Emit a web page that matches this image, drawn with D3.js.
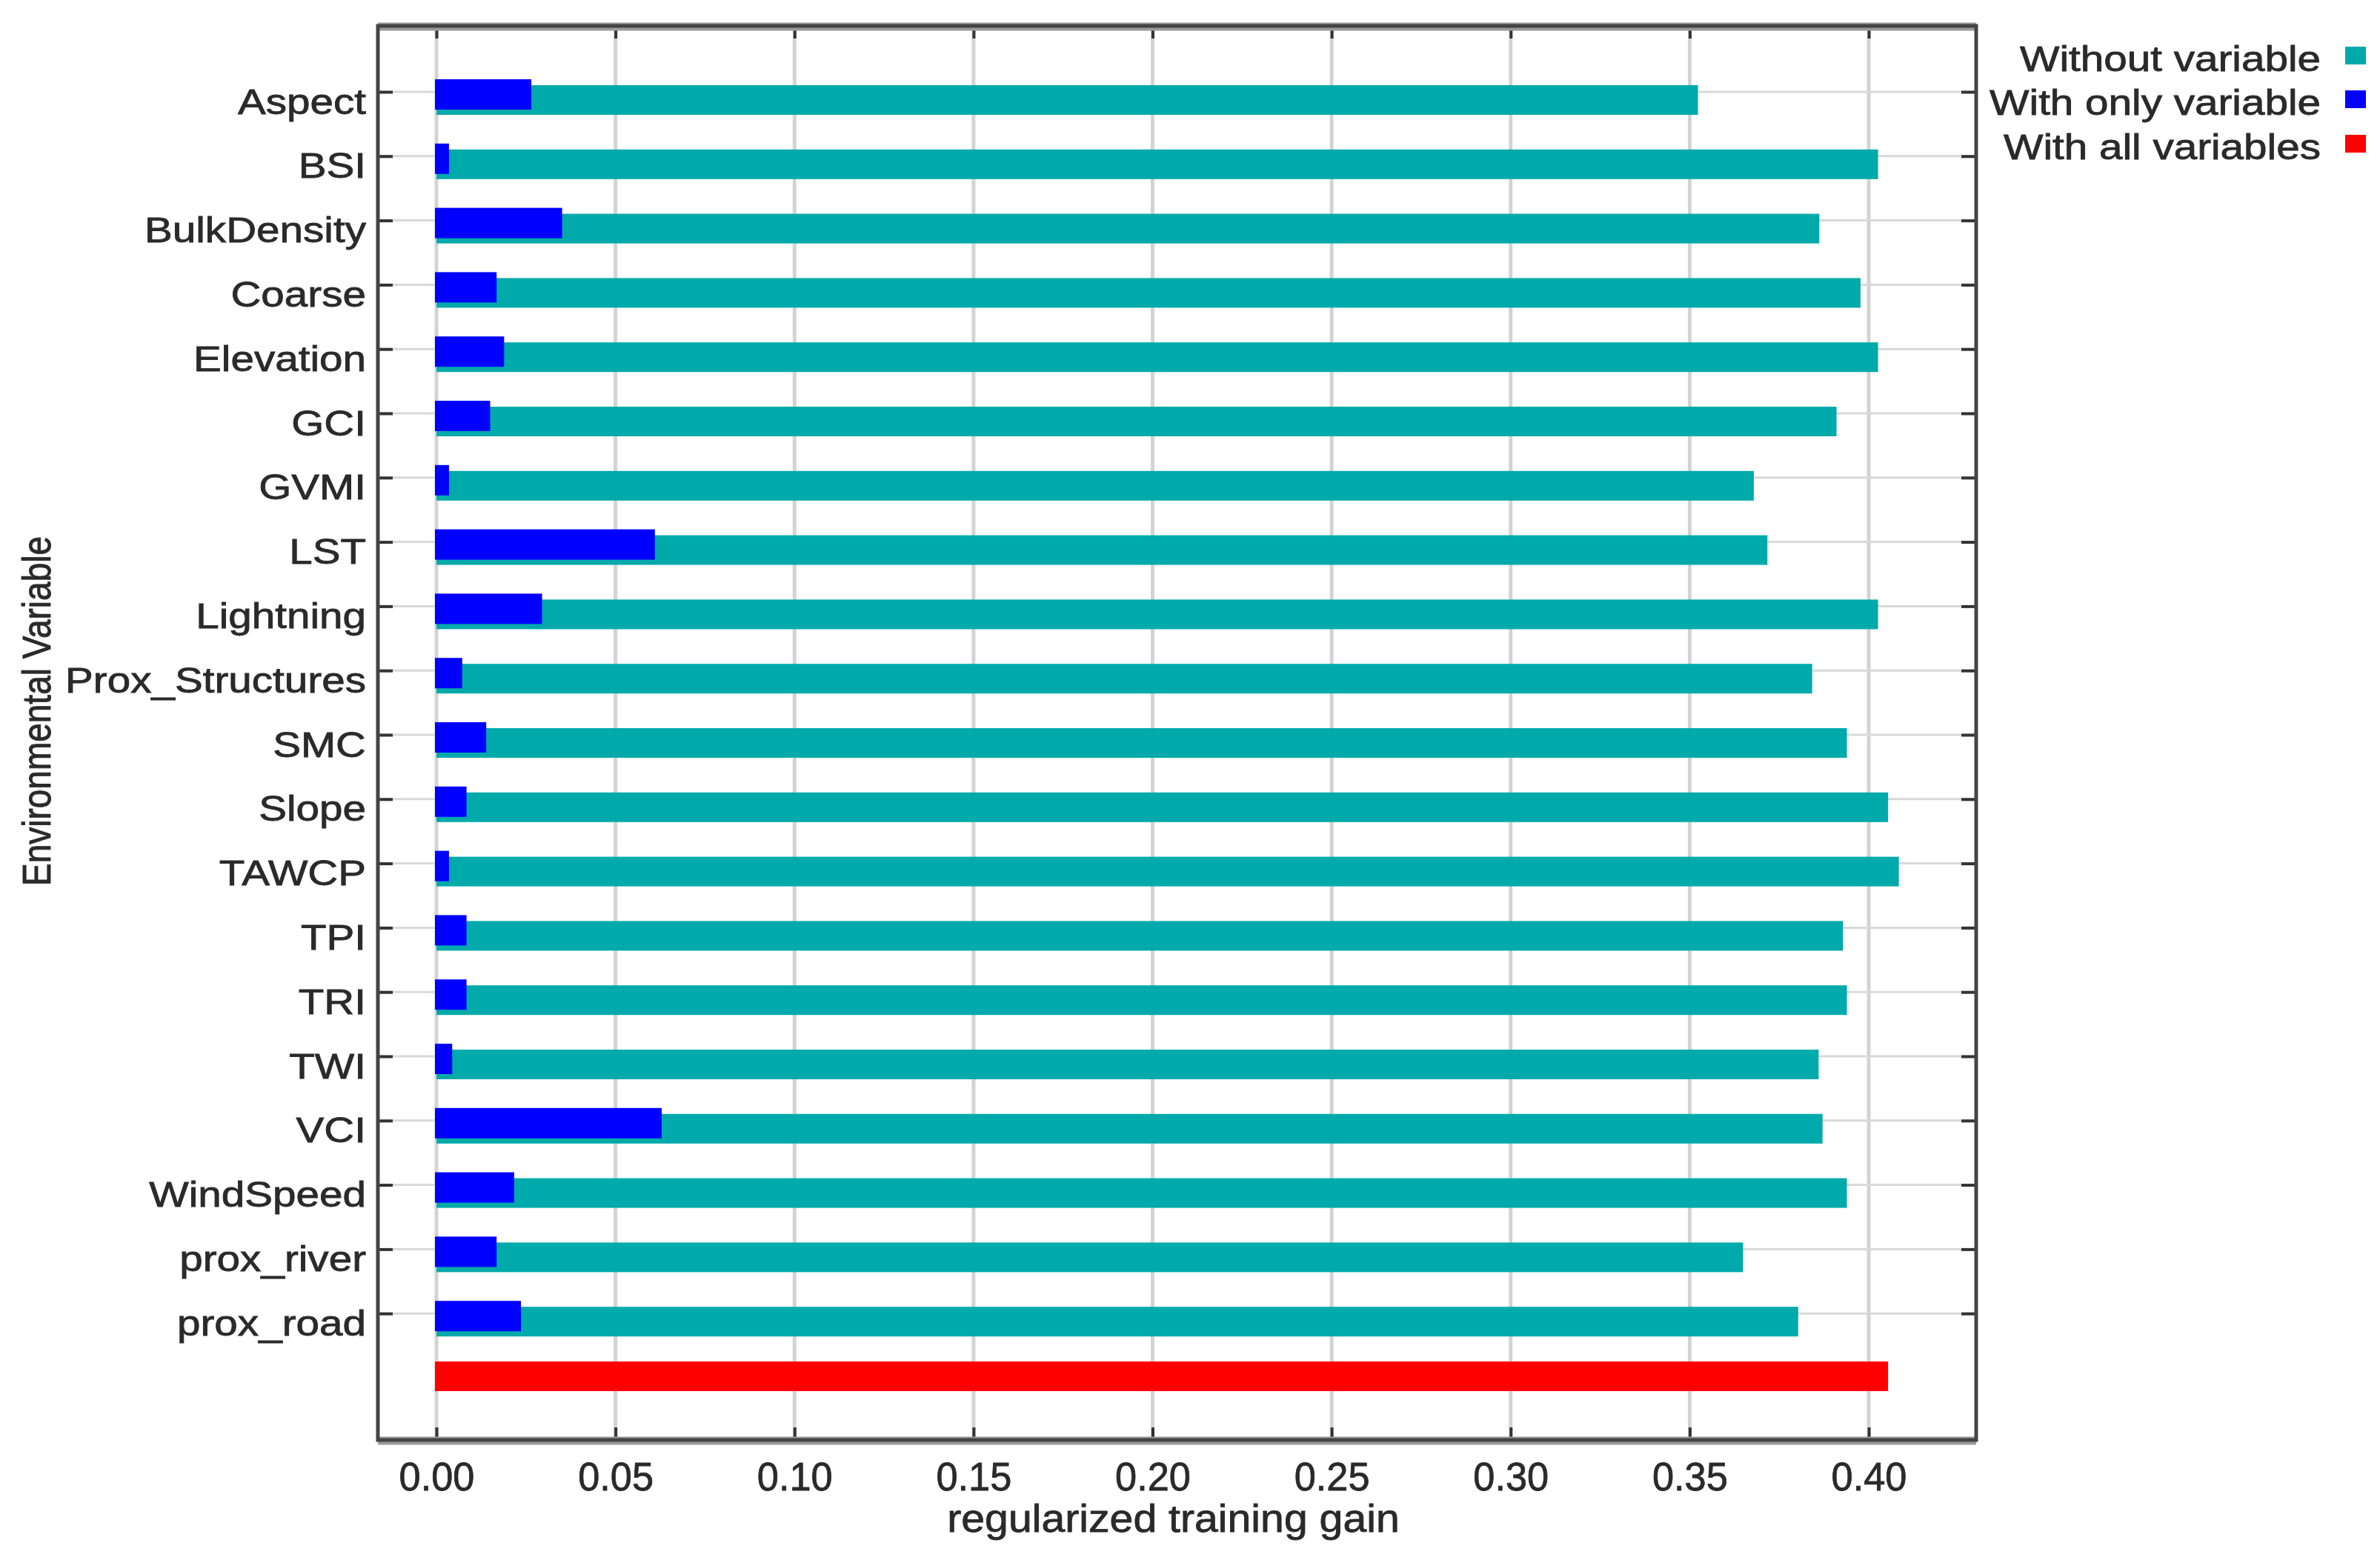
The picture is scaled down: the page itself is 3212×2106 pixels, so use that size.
<!DOCTYPE html>
<html>
<head>
<meta charset="utf-8">
<script src="https://cdn.jsdelivr.net/npm/d3@7"></script>
<style>
  html, body { margin: 0; padding: 0; background: #fff; }
  svg { display: block; font-family: "Liberation Sans", Arial, sans-serif; }
  svg text { stroke: #2a2a2a; stroke-width: 0.8px; }
</style>
</head>
<body>
<script>
// jackknife of regularized training gain
const variables = ["Aspect", "BSI", "BulkDensity", "Coarse", "Elevation", "GCI", "GVMI", "LST",
  "Lightning", "Prox_Structures", "SMC", "Slope", "TAWCP", "TPI", "TRI", "TWI", "VCI",
  "WindSpeed", "prox_river", "prox_road"];
const withoutVariable = [0.3523, 0.4026, 0.3862, 0.3977, 0.4026, 0.3910, 0.3679, 0.3717,
  0.4026, 0.3842, 0.3939, 0.4054, 0.4084, 0.3928, 0.3939, 0.3860, 0.3871,
  0.3939, 0.3649, 0.3803];
const withOnlyVariable = [0.0265, 0.0035, 0.0351, 0.0168, 0.0189, 0.0150, 0.0035, 0.0610,
  0.0295, 0.0072, 0.0139, 0.0084, 0.0035, 0.0084, 0.0084, 0.0044, 0.0629,
  0.0217, 0.0168, 0.0236];
const withAllVariables = 0.4054;
const xTicks = [0, 0.05, 0.10, 0.15, 0.20, 0.25, 0.30, 0.35, 0.40];
const legendLabels = ["Without variable", "With only variable", "With all variables"];
const legendColors = ["#00aaaa", "#0000ff", "#ff0000"];

const W = 3212, H = 2106;
const pLeft = 510, pRight = 2667, pTop = 35, pBottom = 1944;
const sx = 1.18; // the picture is stretched sideways, text too

const svg = d3.select("body").append("svg")
  .attr("width", W).attr("height", H)
  .attr("viewBox", [0, 0, W, H]);

const x = d3.scaleLinear().domain([-0.01635, 0.430]).range([pLeft, pRight]);
const rows = variables.concat(["all"]);
const y = d3.scalePoint().domain(rows).range([124, 1860]);

// grid
const grid = svg.append("g");
grid.selectAll("line.v")
  .data(xTicks)
  .join("line")
  .attr("class", "v")
  .attr("x1", d => x(d)).attr("x2", d => x(d))
  .attr("y1", pTop).attr("y2", pBottom)
  .attr("stroke", "#d3d3d3")
  .attr("stroke-width", 5);
grid.selectAll("line.h")
  .data(variables)
  .join("line")
  .attr("class", "h")
  .attr("x1", pLeft).attr("x2", pRight)
  .attr("y1", d => y(d)).attr("y2", d => y(d))
  .attr("stroke", "#d9d9d9")
  .attr("stroke-width", 3);

// bars
const bars = svg.append("g");
bars.selectAll("rect.without")
  .data(variables)
  .join("rect")
  .attr("class", "without")
  .attr("x", x(0))
  .attr("y", d => y(d) - 9)
  .attr("width", (d, i) => x(withoutVariable[i]) - x(0))
  .attr("height", 40)
  .attr("fill", legendColors[0]);
bars.selectAll("rect.only")
  .data(variables)
  .join("rect")
  .attr("class", "only")
  .attr("x", x(0) - 2)
  .attr("y", d => y(d) - 17)
  .attr("width", (d, i) => x(withOnlyVariable[i]) - x(0) + 2)
  .attr("height", 41)
  .attr("fill", legendColors[1]);
bars.append("rect")
  .attr("x", x(0) - 2)
  .attr("y", y("all") - 22)
  .attr("width", x(withAllVariables) - x(0) + 2)
  .attr("height", 40)
  .attr("fill", legendColors[2]);

// axes (ticks point inward)
const tickColor = "#333";
svg.append("g")
  .attr("transform", `translate(0,${pBottom})`)
  .call(d3.axisBottom(x).tickValues(xTicks).tickFormat(d3.format(".2f")).tickSize(-17))
  .call(g => g.select(".domain").remove())
  .call(g => g.selectAll(".tick line").attr("stroke", tickColor).attr("stroke-width", 4))
  .call(g => g.selectAll(".tick text")
    .attr("y", 68).attr("dy", null)
    .attr("transform", "scale(0.97,1)")
    .attr("font-size", 54)
    .attr("fill", "#2a2a2a"));

svg.append("g")
  .attr("transform", `translate(0,${pTop})`)
  .call(d3.axisTop(x).tickValues(xTicks).tickFormat("").tickSize(-17))
  .call(g => g.select(".domain").remove())
  .call(g => g.selectAll(".tick line").attr("stroke", tickColor).attr("stroke-width", 4));

svg.append("g")
  .attr("transform", `translate(${pLeft},0)`)
  .call(d3.axisLeft(y).tickValues(variables).tickSize(-20))
  .call(g => g.select(".domain").remove())
  .call(g => g.selectAll(".tick line").attr("stroke", tickColor).attr("stroke-width", 4))
  .call(g => g.selectAll(".tick text")
    .attr("x", -16 / sx).attr("dy", null).attr("y", 29)
    .attr("transform", `scale(${sx},1)`)
    .attr("font-size", 48)
    .attr("fill", "#2a2a2a"));

svg.append("g")
  .attr("transform", `translate(${pRight},0)`)
  .call(d3.axisRight(y).tickValues(variables).tickFormat("").tickSize(-20))
  .call(g => g.select(".domain").remove())
  .call(g => g.selectAll(".tick line").attr("stroke", tickColor).attr("stroke-width", 4));

// frame
svg.append("line")
  .attr("x1", pLeft).attr("x2", pRight).attr("y1", pTop + 1).attr("y2", pTop + 1)
  .attr("stroke", "#9a9a9a").attr("stroke-width", 11);
svg.append("line")
  .attr("x1", pLeft).attr("x2", pRight).attr("y1", pBottom + 1).attr("y2", pBottom + 1)
  .attr("stroke", "#9a9a9a").attr("stroke-width", 11);
svg.append("rect")
  .attr("x", pLeft).attr("y", pTop)
  .attr("width", pRight - pLeft).attr("height", pBottom - pTop)
  .attr("fill", "none")
  .attr("stroke", "#444")
  .attr("stroke-width", 5);

// axis titles
svg.append("text")
  .attr("transform", `translate(${(pLeft + pRight) / 2 - 5},2068) scale(1.1,1)`)
  .attr("text-anchor", "middle")
  .attr("font-size", 52)
  .attr("fill", "#2a2a2a")
  .text("regularized training gain");

svg.append("text")
  .attr("transform", `translate(68,960) scale(${sx},1) rotate(-90)`)
  .attr("text-anchor", "middle")
  .attr("font-size", 46)
  .attr("fill", "#2a2a2a")
  .text("Environmental Variable");

// legend
const legend = svg.append("g");
const lgY = [96, 155, 215];
legend.selectAll("text")
  .data(legendLabels)
  .join("text")
  .attr("transform", (d, i) => `translate(3132,${lgY[i]}) scale(${sx},1)`)
  .attr("text-anchor", "end")
  .attr("font-size", 48)
  .attr("fill", "#2a2a2a")
  .text(d => d);
legend.selectAll("rect")
  .data(legendColors)
  .join("rect")
  .attr("x", 3165)
  .attr("y", (d, i) => lgY[i] - 33)
  .attr("width", 28)
  .attr("height", 24)
  .attr("fill", d => d)
  .attr("stroke", "none");
</script>
</body>
</html>
